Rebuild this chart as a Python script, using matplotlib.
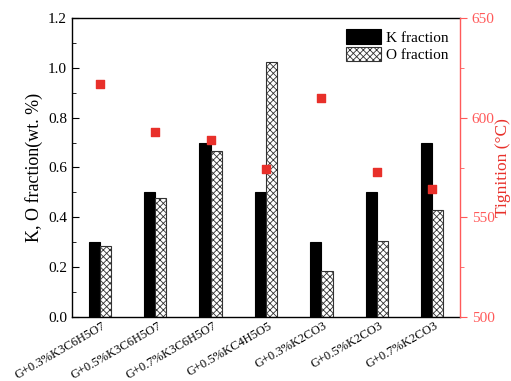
import matplotlib.pyplot as plt
import numpy as np

plt.rcParams['font.family'] = ['Liberation Serif', 'DejaVu Serif']
plt.rcParams['hatch.linewidth'] = 0.6

samples = ['G+0.3%K3C6H5O7', 'G+0.5%K3C6H5O7', 'G+0.7%K3C6H5O7', 'G+0.5%KC4H5O5',
           'G+0.3%K2CO3', 'G+0.5%K2CO3', 'G+0.7%K2CO3']
k_frac = [0.30, 0.50, 0.70, 0.50, 0.30, 0.50, 0.70]
o_frac = [0.285, 0.478, 0.668, 1.022, 0.183, 0.305, 0.43]
t_ign = [617, 593, 589, 574, 610, 572.5, 564]

red = '#e8302a'
axred = '#ff5a5a'

fig = plt.figure(figsize=(5.11, 3.81), dpi=100)
ax = fig.add_axes([72/511, 1-317/381, 388/511, 299/381])
x = np.arange(1, len(samples)+1)
w = 0.2
ax.bar(x - w/2, k_frac, w, color='black', edgecolor='black', linewidth=0.8, label='K fraction')
ax.bar(x + w/2, o_frac, w, color='white', edgecolor='#333333', linewidth=0.8, hatch='xxxxx', label='O fraction')
ax.set_xlim(0.5, 7.5)
ax.set_ylim(0, 1.2)
ax.set_yticks(np.arange(0, 1.21, 0.2))
ax.set_yticks(np.arange(0.1, 1.2, 0.2), minor=True)
ax.set_yticklabels(['%.1f' % v for v in np.arange(0, 1.21, 0.2)])
ax.tick_params(axis='y', direction='in', length=5, labelsize=11)
ax.tick_params(axis='y', which='minor', direction='in', length=3)
ax.set_xticks(x + 0.04)
ax.set_xticklabels(samples, rotation=30, ha='right', rotation_mode='anchor', fontsize=9.0)
ax.tick_params(axis='x', length=0, pad=2)
ax.set_ylabel('K, O fraction(wt. %)', fontsize=13)
for s in ['left', 'bottom', 'top']:
    ax.spines[s].set_linewidth(1.0)
ax.spines['right'].set_visible(False)
leg = ax.legend(loc='upper right', frameon=False, fontsize=11, handlelength=2.3, handleheight=1.1,
                borderaxespad=0.35, labelspacing=0.1, handletextpad=0.3)

ax2 = ax.twinx()
ax2.scatter(x, t_ign, marker='s', s=32, color=red, zorder=5)
ax2.set_ylim(500, 650)
ax2.set_yticks([500, 550, 600, 650])
ax2.set_yticks([525, 575, 625], minor=True)
ax2.tick_params(axis='y', colors=axred, labelcolor=axred, direction='out', length=5, labelsize=11)
ax2.tick_params(axis='y', which='minor', colors=axred, direction='out', length=3)
ax2.spines['right'].set_color(axred)
ax2.spines['right'].set_linewidth(1.0)
for s in ['left', 'bottom', 'top']:
    ax2.spines[s].set_visible(False)
ax2.set_ylabel('Tignition (°C)', color=red, fontsize=12.5, labelpad=0)

fig.savefig('out.png', dpi=100)
